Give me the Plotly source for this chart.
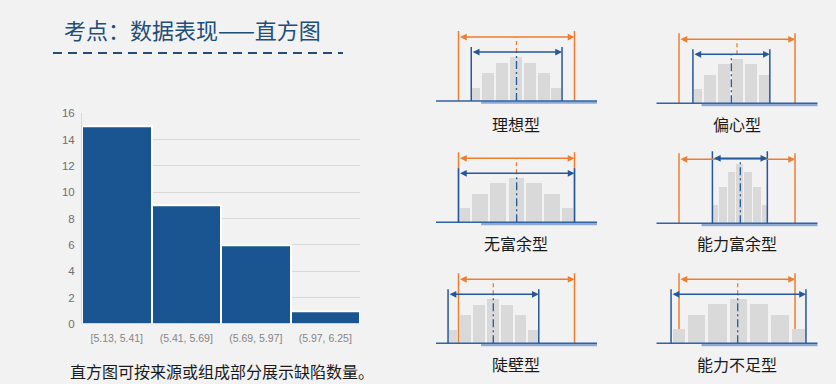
import plotly.graph_objects as go

W, H = 836, 384

# ---------------- data ----------------
title_text = "考点：数据表现——直方图"
caption_text = "直方图可按来源或组成部分展示缺陷数量。"

hist_bins = ["[5.13, 5.41]", "(5.41, 5.69]", "(5.69, 5.97]", "(5.97, 6.25]"]
hist_counts = [15, 9, 6, 1]
hist_yticks = [0, 2, 4, 6, 8, 10, 12, 14, 16]

pattern_names = ["理想型", "偏心型", "无富余型", "能力富余型", "陡壁型", "能力不足型"]
spec_lower = -1.0   # normalised lower specification limit
spec_upper = 1.0    # normalised upper specification limit
pattern_edges = [
    [-0.78, -0.61, -0.37, -0.13, 0.11, 0.355, 0.585, 0.785],
    [-0.76, -0.597, -0.355, -0.108, 0.117, 0.348, 0.566],
    [-1.0, -0.792, -0.472, -0.159, 0.147, 0.458, 0.770, 1.0],
    [-0.424, -0.331, -0.177, -0.031, 0.106, 0.257, 0.407, 0.523],
    [-1.18, -1.007, -0.77, -0.528, -0.285, -0.043, 0.182, 0.384],
    [-1.137, -0.883, -0.527, -0.163, 0.197, 0.557, 0.918, 1.189],
]
pattern_counts = [
    [3.0, 6.2, 8.6, 10.0, 8.6, 6.2, 3.0],
    [3.1, 6.2, 8.7, 10.0, 8.7, 6.2],
    [3.1, 6.2, 8.7, 10.0, 8.7, 6.2, 3.1],
    [4.0, 8.2, 11.4, 13.2, 11.4, 8.2, 4.0],
    [2.9, 6.2, 8.5, 10.0, 8.5, 6.2, 2.9],
    [3.1, 6.2, 8.7, 10.0, 8.7, 6.2, 3.1],
]
pattern_mean = [0.0, -0.098, 0.003, 0.057, -0.40, 0.012]
pattern_target = [0.0, 0.0, 0.0, 0.057, -0.40, 0.012]

# ---------------- styling ----------------
BLUE = "#25589a"
ORANGE = "#ed7d31"
BAR_BLUE = "#1b5591"
BG = "#f2f2f2"
CJK = "Noto Sans CJK SC"
LAT = "Liberation Sans, Arial, sans-serif"


def px_y(p):
    return 1 - p / H


fig = go.Figure()

# main histogram
fig.add_trace(go.Bar(
    x=hist_bins, y=hist_counts, xaxis="x", yaxis="y",
    marker=dict(color=BAR_BLUE, line=dict(color="white", width=2)),
    hoverinfo="x+y", showlegend=False,
))

layout = dict(
    width=W, height=H, margin=dict(l=0, r=0, t=0, b=0),
    paper_bgcolor=BG, plot_bgcolor="rgba(0,0,0,0)",
    template="none", bargap=0, showlegend=False,
    xaxis=dict(domain=[82 / W, 360 / W], type="category", range=[-0.5, 3.5],
               showgrid=False, showline=False, zeroline=False, ticks="",
               ticklabelstandoff=6, automargin=False, fixedrange=True,
               tickfont=dict(family=LAT, size=10.5, color="#858585")),
    yaxis=dict(domain=[px_y(324), px_y(113.3)], range=[0, 16], tickvals=hist_yticks,
               showgrid=True, gridcolor="#d9d9d9", gridwidth=1,
               showline=True, linecolor="#d9d9d9", linewidth=1,
               zeroline=False, ticks="", ticklabelstandoff=4,
               automargin=False, fixedrange=True,
               tickfont=dict(family=LAT, size=11.5, color="#6f6f6f")),
)

shapes = []
annotations = []

# title & dashed underline
annotations.append(dict(text=title_text, x=62 / W, y=px_y(29), xref="paper", yref="paper",
                        xanchor="left", yanchor="middle", showarrow=False,
                        font=dict(family=CJK, size=22, color="#1f4e79")))
shapes.append(dict(type="line", xref="paper", yref="paper", x0=53 / W, x1=343 / W,
                   y0=px_y(53), y1=px_y(53),
                   line=dict(color="#1f4e79", width=2, dash="9px,6px")))
annotations.append(dict(text=caption_text, x=68 / W, y=px_y(370.5), xref="paper", yref="paper",
                        xanchor="left", yanchor="middle", showarrow=False,
                        font=dict(family=CJK, size=16, color="#1a1a1a")))

# pattern panels
PXC = 4.45            # pixels per count in panels
PXU = 58.0            # pixels per normalised unit
HALF = 80.5           # half width of a panel in px
col_center = [516.5, 737.0]
panel_base = [101, 103.3, 222.3, 223.3, 343.3, 343.3]
row_label = [124.2, 242.7, 363.5]
orange_top_px, orange_arrow_px = 70, 64
blue_top_px = [54, 54, 54, 72, 54, 54]
blue_arrow_px = [49, 49, 49, 65, 49, 49]

for i, name in enumerate(pattern_names):
    n = i + 2
    col, row = i % 2, i // 2
    cx = col_center[col]
    b = panel_base[i]
    xa, ya = f"x{n}", f"y{n}"
    layout[f"xaxis{n}"] = dict(domain=[(cx - HALF) / W, (cx + HALF) / W],
                               range=[-HALF / PXU, HALF / PXU], visible=False,
                               fixedrange=True, anchor=ya)
    layout[f"yaxis{n}"] = dict(domain=[px_y(b + 5), px_y(b - 78)],
                               range=[-5 / PXC, 78 / PXC], visible=False,
                               fixedrange=True, anchor=xa)
    edges = pattern_edges[i]
    centers = [(edges[k] + edges[k + 1]) / 2 for k in range(len(edges) - 1)]
    widths = [0.86 * (edges[k + 1] - edges[k]) for k in range(len(edges) - 1)]
    fig.add_trace(go.Bar(x=centers, y=pattern_counts[i], width=widths,
                         xaxis=xa, yaxis=ya, marker=dict(color="#d9d9d9", line=dict(width=0)),
                         hoverinfo="skip", showlegend=False))

    o_top = orange_top_px / PXC
    o_arr = orange_arrow_px / PXC
    b_top = blue_top_px[i] / PXC
    b_arr = blue_arrow_px[i] / PXC

    # baseline shadow + baseline
    shapes.append(dict(type="line", xref=f"{xa} domain", yref=ya, x0=0.28, x1=1,
                       y0=-1.6 / PXC, y1=-1.6 / PXC,
                       line=dict(color="#8eaad2", width=2.5)))
    shapes.append(dict(type="line", xref=f"{xa} domain", yref=ya, x0=0, x1=1, y0=0, y1=0,
                       line=dict(color="#2f63a3", width=1.6)))
    # spec limits (orange)
    for xv in (spec_lower, spec_upper):
        shapes.append(dict(type="line", xref=xa, yref=ya, x0=xv, x1=xv, y0=0, y1=o_top,
                           layer="below", line=dict(color=ORANGE, width=1.5)))
    # process spread limits (blue)
    for xv in (edges[0], edges[-1]):
        shapes.append(dict(type="line", xref=xa, yref=ya, x0=xv, x1=xv, y0=0, y1=b_top,
                           line=dict(color=BLUE, width=1.5)))
    # centre lines
    if b_arr < o_arr - 0.5:
        shapes.append(dict(type="line", xref=xa, yref=ya, x0=pattern_target[i], x1=pattern_target[i],
                           y0=b_arr, y1=o_arr, line=dict(color=ORANGE, width=1.3, dash="4px,3px")))
    shapes.append(dict(type="line", xref=xa, yref=ya, x0=pattern_mean[i], x1=pattern_mean[i],
                       y0=0, y1=b_arr, line=dict(color=BLUE, width=1.3, dash="8px,3px,2px,3px")))

    # arrows
    annotations.append(dict(text="", xref=xa, yref=ya, axref=xa, ayref=ya,
                            x=spec_upper, y=o_arr, ax=spec_lower, ay=o_arr,
                            showarrow=True, arrowside="end+start", arrowhead=2, startarrowhead=2,
                            arrowsize=0.9, startarrowsize=0.9, arrowwidth=1.5,
                            arrowcolor=ORANGE, standoff=0, startstandoff=0))
    annotations.append(dict(text="", xref=xa, yref=ya, axref=xa, ayref=ya,
                            x=edges[-1], y=b_arr, ax=edges[0], ay=b_arr,
                            showarrow=True, arrowside="end+start", arrowhead=2, startarrowhead=2,
                            arrowsize=0.9, startarrowsize=0.9, arrowwidth=1.5,
                            arrowcolor=BLUE, standoff=0, startstandoff=0))
    # label
    annotations.append(dict(text=name, xref="paper", yref="paper",
                            x=(cx - 0.5) / W, y=px_y(row_label[row]),
                            xanchor="center", yanchor="middle", showarrow=False,
                            font=dict(family=CJK, size=16, color="#1a1a1a")))

layout["shapes"] = shapes
layout["annotations"] = annotations
fig.update_layout(**layout)

fig.write_html("out.html")
